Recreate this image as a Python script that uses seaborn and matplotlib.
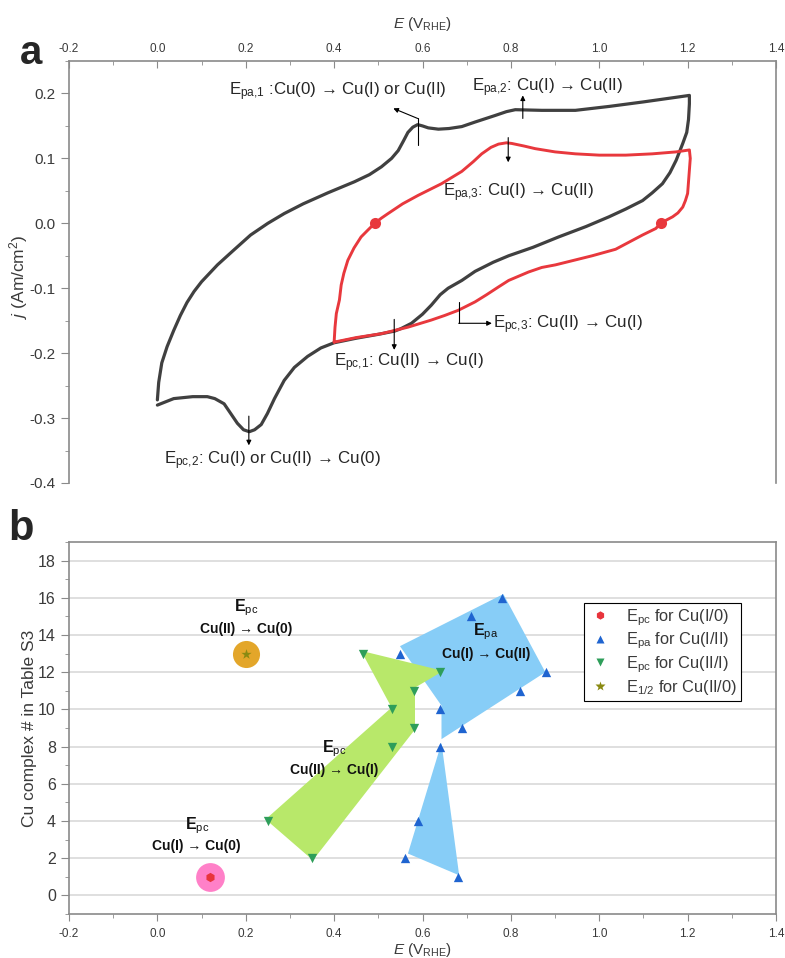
import numpy as np
import pandas as pd
import matplotlib
matplotlib.use("Agg")
import matplotlib.pyplot as plt
from matplotlib.ticker import MultipleLocator, FormatStrFormatter
from matplotlib.lines import Line2D
import seaborn as sns

# ---------------- panel a: cyclic voltammograms ----------------
# wide scan (0.0 -> 1.2 -> 0.0 V), anodic then cathodic sweep
wide_E = [0.000, 0.003, 0.010, 0.022, 0.037, 0.052, 0.067, 0.083, 0.100, 0.136,
          0.170, 0.211, 0.250, 0.287, 0.330, 0.386, 0.446, 0.480, 0.507, 0.530,
          0.545, 0.557, 0.567, 0.578, 0.589, 0.600, 0.613, 0.636, 0.660, 0.689,
          0.719, 0.764, 0.790, 0.810, 0.870, 0.946, 1.022, 1.100, 1.204,
          1.204, 1.202, 1.198, 1.189, 1.174, 1.160, 1.143, 1.120, 1.098, 1.060,
          1.022, 0.970, 0.908, 0.850, 0.795, 0.760, 0.719, 0.689, 0.658, 0.640,
          0.620, 0.600, 0.575, 0.552, 0.537, 0.500, 0.450, 0.400, 0.370, 0.340,
          0.310, 0.287, 0.265, 0.249, 0.235, 0.220, 0.208, 0.195, 0.181, 0.165,
          0.151, 0.130, 0.113, 0.080, 0.037, 0.000]
wide_j = [-0.272, -0.245, -0.215, -0.190, -0.165, -0.142, -0.122, -0.105, -0.090, -0.064,
          -0.043, -0.018, 0.000, 0.015, 0.030, 0.047, 0.064, 0.075, 0.087, 0.100,
          0.112, 0.127, 0.140, 0.148, 0.152, 0.150, 0.147, 0.145, 0.146, 0.149,
          0.156, 0.166, 0.172, 0.175, 0.174, 0.174, 0.180, 0.187, 0.197,
          0.184, 0.160, 0.140, 0.123, 0.097, 0.078, 0.061, 0.047, 0.035, 0.022,
          0.010, -0.005, -0.021, -0.037, -0.050, -0.060, -0.074, -0.088, -0.100, -0.110,
          -0.126, -0.140, -0.154, -0.162, -0.166, -0.171, -0.177, -0.184, -0.192, -0.205,
          -0.222, -0.242, -0.270, -0.293, -0.310, -0.318, -0.321, -0.318, -0.308, -0.292,
          -0.278, -0.270, -0.267, -0.267, -0.270, -0.280]

# narrow scan (0.4 -> 1.2 -> 0.4 V)
narrow_E = [0.400, 0.402, 0.405, 0.412, 0.416, 0.422, 0.431, 0.445, 0.461, 0.477,
            0.492, 0.507, 0.522, 0.555, 0.590, 0.643, 0.689, 0.715, 0.734, 0.755,
            0.772, 0.790, 0.802, 0.830, 0.855, 0.900, 0.946, 1.000, 1.060, 1.120,
            1.174, 1.204,
            1.206, 1.204, 1.200, 1.195, 1.189, 1.178, 1.166, 1.152, 1.139, 1.128,
            1.098, 1.037, 0.984, 0.901, 0.870, 0.840, 0.795, 0.772, 0.745, 0.719,
            0.681, 0.650, 0.620, 0.567, 0.507, 0.450, 0.400]
narrow_j = [-0.183, -0.160, -0.139, -0.118, -0.095, -0.077, -0.057, -0.038, -0.021, -0.010,
            0.000, 0.008, 0.015, 0.030, 0.043, 0.061, 0.080, 0.095, 0.107, 0.117,
            0.122, 0.124, 0.123, 0.119, 0.115, 0.110, 0.107, 0.105, 0.105, 0.107,
            0.110, 0.113,
            0.100, 0.082, 0.046, 0.035, 0.025, 0.016, 0.010, 0.005, 0.000, -0.008,
            -0.018, -0.040, -0.050, -0.064, -0.068, -0.075, -0.088, -0.098, -0.110, -0.121,
            -0.134, -0.142, -0.149, -0.160, -0.170, -0.176, -0.183]

# noisy spots on the narrow scan near zero current
spot_E = [0.492, 1.139]
spot_j = [0.000, 0.000]

# ---------------- panel b: peak potentials per complex ----------------
cuI0_E = [0.12]
cuI0_n = [1]
epa_E = [0.78, 0.71, 0.55, 0.88, 0.82, 0.64, 0.69, 0.64, 0.59, 0.56, 0.68]
epa_n = [16, 15, 13, 12, 11, 10, 9, 8, 4, 2, 1]
epc21_E = [0.465, 0.64, 0.58, 0.53, 0.58, 0.53, 0.25, 0.35]
epc21_n = [13, 12, 11, 10, 9, 8, 4, 2]
half_E = [0.20]
half_n = [13]

# shaded regions grouping the peaks
green_region_E = [0.461, 0.647, 0.583, 0.583, 0.352, 0.245, 0.530]
green_region_n = [13.15, 12.07, 11.17, 8.92, 1.89, 4.09, 10.1]
blue_upper_E = [0.549, 0.783, 0.878, 0.643, 0.643]
blue_upper_n = [13.4, 16.2, 12.0, 8.4, 10.2]
blue_lower_E = [0.643, 0.683, 0.567]
blue_lower_n = [8.2, 1.08, 2.25]

# ---------------- style ----------------
sns.set_style("ticks")
plt.rcParams['font.family'] = ['Liberation Sans', 'DejaVu Sans']
plt.rcParams['mathtext.fontset'] = 'custom'
plt.rcParams['mathtext.rm'] = 'Liberation Sans'
plt.rcParams['mathtext.it'] = 'Liberation Sans:italic'
plt.rcParams['mathtext.bf'] = 'Liberation Sans:bold'

SPINE = '#8a8a8a'
TXT = '#3a3a3a'
BLACK_CV = '#404040'
RED_CV = '#e8383d'

W, H = 785, 958
fig = plt.figure(figsize=(W / 100, H / 100), dpi=100)
axa = fig.add_axes([69 / W, 1 - 483 / H, 707 / W, 422 / H])
axb = fig.add_axes([69 / W, 1 - 914 / H, 707 / W, 372 / H])

# ---------------- panel a ----------------
wide = pd.DataFrame({'E': wide_E, 'j': wide_j})
narrow = pd.DataFrame({'E': narrow_E, 'j': narrow_j})
sns.lineplot(data=wide, x='E', y='j', sort=False, estimator=None,
             color=BLACK_CV, lw=2.3, ax=axa)
sns.lineplot(data=narrow, x='E', y='j', sort=False, estimator=None,
             color=RED_CV, lw=2.1, ax=axa)
axa.plot(spot_E, spot_j, 'o', ms=8, color=RED_CV, mec='none')

axa.set_xlim(-0.2, 1.4)
axa.set_ylim(-0.4, 0.25)
axa.xaxis.tick_top()
axa.xaxis.set_label_position('top')
axa.spines['bottom'].set_visible(False)
for s in ['top', 'left', 'right']:
    axa.spines[s].set_color(SPINE)
    axa.spines[s].set_linewidth(1.2)
axa.xaxis.set_major_locator(MultipleLocator(0.2))
axa.xaxis.set_minor_locator(MultipleLocator(0.1))
axa.yaxis.set_major_locator(MultipleLocator(0.1))
axa.yaxis.set_minor_locator(MultipleLocator(0.05))
axa.tick_params(axis='x', which='both', direction='in', top=True, bottom=False,
                labeltop=True, labelbottom=False, color=SPINE, labelcolor=TXT,
                labelsize=8.5)
axa.tick_params(axis='x', which='major', length=5, pad=4)
axa.tick_params(axis='x', which='minor', length=3)
axa.tick_params(axis='y', which='both', direction='out', color=SPINE,
                labelcolor=TXT, labelsize=11, right=False)
axa.tick_params(axis='y', which='major', length=6)
axa.tick_params(axis='y', which='minor', length=3)
axa.xaxis.set_major_formatter(FormatStrFormatter('%.1f'))
axa.yaxis.set_major_formatter(FormatStrFormatter('%.1f'))
axa.set_xlabel(r'$\it{E}$ (V$_{\mathrm{RHE}}$)', fontsize=11, color=TXT, labelpad=11)
axa.set_ylabel(r'$\it{j}$ (Am/cm$^{2}$)', fontsize=12.5, color=TXT)
axa.yaxis.set_label_coords(-(69 - 30) / 707, 0.49)

arrow_kw = dict(arrowstyle='-|>', color='black', lw=0.8, mutation_scale=7,
                shrinkA=0, shrinkB=0)
line_kw = dict(color='black', lw=0.8)
# E_pa,1: tick through the peak, then pointer toward the label
axa.plot([0.589, 0.589], [0.120, 0.1615], **line_kw)
axa.annotate('', xy=(0.534, 0.177), xytext=(0.589, 0.1615), arrowprops=arrow_kw)
# E_pa,2
axa.annotate('', xy=(0.827, 0.197), xytext=(0.827, 0.1615), arrowprops=arrow_kw)
# E_pa,3
axa.annotate('', xy=(0.794, 0.094), xytext=(0.794, 0.132), arrowprops=arrow_kw)
# E_pc,3: elbow pointer
axa.plot([0.682, 0.682], [-0.1215, -0.154], **line_kw)
axa.annotate('', xy=(0.757, -0.154), xytext=(0.682, -0.154), arrowprops=arrow_kw)
# E_pc,1
axa.annotate('', xy=(0.536, -0.195), xytext=(0.536, -0.148), arrowprops=arrow_kw)
# E_pc,2
axa.annotate('', xy=(0.207, -0.342), xytext=(0.207, -0.297), arrowprops=arrow_kw)

ann_fs = 12.2
ann_c = '#262626'
labels_a = [
    (0.161, 0.197, r'E$_{\mathrm{pa{,}1}}$ :Cu(0) → Cu(I) or Cu(II)'),
    (0.711, 0.2035, r'E$_{\mathrm{pa{,}2}}$: Cu(I) → Cu(II)'),
    (0.647, 0.0415, r'E$_{\mathrm{pa{,}3}}$: Cu(I) → Cu(II)'),
    (0.759, -0.1615, r'E$_{\mathrm{pc{,}3}}$: Cu(II) → Cu(I)'),
    (0.399, -0.2195, r'E$_{\mathrm{pc{,}1}}$: Cu(II) → Cu(I)'),
    (0.016, -0.371, r'E$_{\mathrm{pc{,}2}}$: Cu(I) or Cu(II) → Cu(0)'),
]
for x, y, t in labels_a:
    axa.text(x, y, t, fontsize=ann_fs, color=ann_c, ha='left', va='baseline')

# ---------------- panel b ----------------
axb.set_xlim(-0.2, 1.4)
axb.set_ylim(-1, 19)
for yv in range(0, 19, 2):
    axb.axhline(yv, color='#dcdcdc', lw=1.3, zorder=0)

axb.fill(blue_upper_E, blue_upper_n, color='#87cdf7', lw=0, zorder=1)
axb.fill(blue_lower_E, blue_lower_n, color='#87cdf7', lw=0, zorder=1)
axb.fill(green_region_E, green_region_n, color='#b8e86a', lw=0, zorder=2)

# highlight discs behind the single-point series
axb.scatter(cuI0_E, cuI0_n, s=430, color='#ff80c8', lw=0, zorder=2)
axb.scatter(half_E, half_n, s=380, color='#e3a62a', lw=0, zorder=2)

C_RED = '#e8343c'
C_BLUE = '#1f64d0'
C_GREEN = '#2e9e5a'
C_OLIVE = '#8a8a12'

sns.scatterplot(x=cuI0_E, y=cuI0_n, marker='h', s=45, color=C_RED, lw=0,
                ax=axb, zorder=4)
sns.scatterplot(x=epa_E, y=epa_n, marker='^', s=45, color=C_BLUE, lw=0,
                ax=axb, zorder=4)
sns.scatterplot(x=epc21_E, y=epc21_n, marker='v', s=45, color=C_GREEN, lw=0,
                ax=axb, zorder=4)
sns.scatterplot(x=half_E, y=half_n, marker='*', s=60, color=C_OLIVE, lw=0,
                ax=axb, zorder=4)

for s in ['top', 'bottom', 'left', 'right']:
    axb.spines[s].set_color(SPINE)
    axb.spines[s].set_linewidth(1.2)
axb.xaxis.set_major_locator(MultipleLocator(0.2))
axb.xaxis.set_minor_locator(MultipleLocator(0.1))
axb.yaxis.set_major_locator(MultipleLocator(2))
axb.yaxis.set_minor_locator(MultipleLocator(1))
axb.set_yticks(range(0, 19, 2))
axb.xaxis.set_major_formatter(FormatStrFormatter('%.1f'))
axb.tick_params(axis='x', which='both', direction='out', color=SPINE,
                labelcolor=TXT, labelsize=8.5)
axb.tick_params(axis='x', which='major', length=5, pad=5)
axb.tick_params(axis='x', which='minor', length=3)
axb.tick_params(axis='y', which='both', direction='out', color=SPINE,
                labelcolor=TXT, labelsize=11.5)
axb.tick_params(axis='y', which='major', length=6)
axb.tick_params(axis='y', which='minor', length=3)
axb.set_xlabel(r'$\it{E}$ (V$_{\mathrm{RHE}}$)', fontsize=11, color=TXT, labelpad=1)
axb.set_ylabel('Cu complex # in Table S3', fontsize=12.5, color=TXT)
axb.yaxis.set_label_coords(-(69 - 37) / 707, 0.5)

bfs = 10
labels_b = [
    (0.20, 15.45, 14.3, 'pc', 'Cu(II) → Cu(0)'),
    (0.089, 3.73, 2.65, 'pc', 'Cu(I) → Cu(0)'),
    (0.40, 7.87, 6.76, 'pc', 'Cu(II) → Cu(I)'),
    (0.743, 14.16, 12.97, 'pa', 'Cu(I) → Cu(II)'),
]
for x, y1, y2, sub, t in labels_b:
    axb.text(x, y1, r'$\mathbf{E}_{\mathrm{%s}}$' % sub, fontsize=bfs + 1.5,
             ha='center', va='center', color='#111111', zorder=5)
    axb.text(x, y2, t, fontsize=bfs, fontweight='bold', ha='center',
             va='center', color='#111111', zorder=5)

handles = [
    Line2D([], [], ls='none', marker='h', ms=6, color=C_RED, mec='none'),
    Line2D([], [], ls='none', marker='^', ms=6, color=C_BLUE, mec='none'),
    Line2D([], [], ls='none', marker='v', ms=6, color=C_GREEN, mec='none'),
    Line2D([], [], ls='none', marker='*', ms=7, color=C_OLIVE, mec='none'),
]
leg_labels = [r'E$_{\mathrm{pc}}$ for Cu(I/0)', r'E$_{\mathrm{pa}}$ for Cu(I/II)',
              r'E$_{\mathrm{pc}}$ for Cu(II/I)', r'E$_{\mathrm{1/2}}$ for Cu(II/0)']
leg = axb.legend(handles, leg_labels, loc='upper left',
                 bbox_to_anchor=((584 - 69) / 707, (914 - 603) / 372),
                 fontsize=11.8, frameon=True, fancybox=False, framealpha=1,
                 edgecolor='black', borderpad=0.25, labelspacing=0.18,
                 handletextpad=0.8, handlelength=1.5, borderaxespad=0)
leg.get_frame().set_linewidth(0.8)
for t in leg.get_texts():
    t.set_color(TXT)

# panel letters
fig.text(20 / W, 1 - 64 / H, 'a', fontsize=29, fontweight='bold', ha='left', va='baseline')
fig.text(8 / W, 1 - 540 / H, 'b', fontsize=30, fontweight='bold', ha='left', va='baseline')

fig.savefig('out.png', dpi=100)
